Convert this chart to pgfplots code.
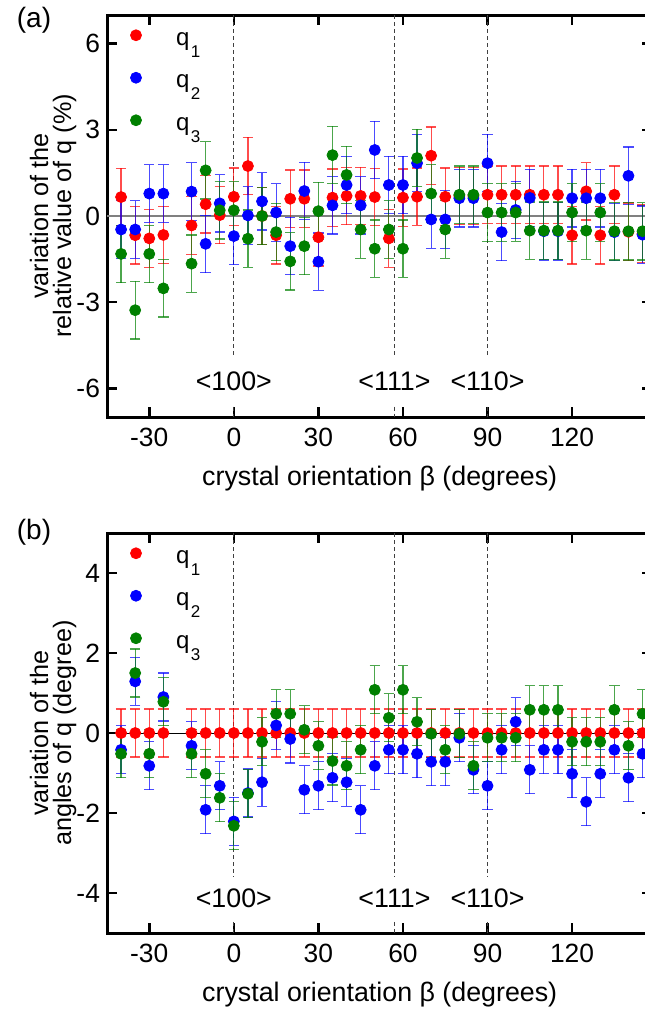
\documentclass[border=0pt]{standalone}
\usepackage{fontspec}
\setmainfont{Liberation Sans}
\usepackage{pgfplots}
\usepackage{pgfplotstable}
\pgfplotsset{compat=1.18}

\definecolor{qred}{RGB}{255,0,0}
\definecolor{qblue}{RGB}{0,0,255}
\definecolor{qgreen}{RGB}{0,128,0}

\pgfplotstableread{
x r b g
-40 0.66 -0.47 -1.32
-35 -0.67 -0.47 -3.28
-30 -0.78 0.78 -1.32
-25 -0.66 0.78 -2.52
-15 -0.33 0.85 -1.66
-10 0.41 -0.97 1.59
-5 0.03 0.44 0.20
0 0.67 -0.70 0.20
5 1.74 0.02 -0.79
10 0.00 0.51 0.00
15 -0.67 0.12 -0.56
20 0.60 -1.05 -1.58
25 0.60 0.87 -1.05
30 -0.74 -1.59 0.17
35 0.64 0.37 2.12
40 0.70 1.08 1.43
45 0.70 0.37 -0.47
50 0.66 2.30 -1.14
55 -0.78 1.08 -0.47
60 0.64 1.08 -1.14
65 0.67 1.84 2.02
70 2.10 -0.12 0.78
75 0.67 -0.12 -0.47
80 0.70 0.62 0.74
85 0.70 0.62 0.74
90 0.74 1.84 0.12
95 0.74 -0.56 0.12
100 0.74 0.21 0.12
105 0.74 0.63 -0.51
110 0.74 -0.53 -0.51
115 0.74 -0.53 -0.51
120 -0.67 0.62 0.12
125 0.86 0.62 -0.51
130 -0.67 0.62 0.12
135 0.74 -0.56 -0.53
140 -0.55 1.40 -0.53
145 -0.62 -0.65 -0.53
}\dataA

\pgfplotstableread{
x r b g
-40 0 -0.42 -0.52
-35 0 1.29 1.50
-30 0 -0.82 -0.52
-25 0 0.90 0.78
-15 0 -0.32 -0.52
-10 0 -1.92 -1.02
-5 0 -1.32 -1.62
0 0 -2.21 -2.32
5 0 -1.50 -1.52
10 0 -1.23 -0.22
15 0 0.19 0.48
20 0 -0.15 0.48
25 0 -1.42 0.08
30 0 -1.32 -0.32
35 0 -1.12 -0.70
40 0 -1.23 -0.82
45 0 -1.92 -0.42
50 0 -0.82 1.08
55 0 -0.42 0.38
60 0 -0.42 1.08
65 0 -0.52 0.28
70 0 -0.72 -0.02
75 0 -0.72 -0.42
80 0 -0.12 -0.02
85 0 -0.92 -0.82
90 0 -1.32 -0.12
95 0 -0.42 -0.12
100 0 0.28 -0.12
105 0 -0.92 0.58
110 0 -0.42 0.58
115 0 -0.42 0.58
120 0 -1.02 -0.22
125 0 -1.72 -0.22
130 0 -1.02 -0.22
135 0 -0.42 0.58
140 0 -1.12 -0.32
145 0 -0.52 0.48
}\dataB

\tikzset{lbl/.style={font=\fontsize{13.4}{15}\selectfont}}

\pgfplotsset{
  myaxis/.style={
    scale only axis, width=272.7pt,
    xmin=-45, xmax=148.5,
    xtick={-30,0,30,60,90,120},
    xticklabels={-30,0,30,60,90,120},
    axis line style={line width=1.5pt},
    major tick length=5pt,
    tick style={black, line width=1.3pt},
    tick label style={font=\fontsize{13.2}{15}\selectfont},
    xticklabel style={yshift=-2pt},
    xlabel={crystal orientation β (degrees)},
    every axis x label/.style={at={(rel axis cs:0.5,0)}, anchor=north, yshift=-21pt, font=\fontsize{13.4}{15}\selectfont},
    every axis y label/.style={at={(rel axis cs:0,0.5)}, rotate=90, anchor=center, yshift=27pt, align=center, font=\fontsize{12.6}{11.5}\selectfont},
    legend style={at={(0,1)}, anchor=north west, xshift=6.5pt, yshift=-3pt, draw=none, fill=none,
      inner sep=0pt, outer sep=0pt, row sep=0pt, column sep=0pt,
      font=\fontsize{12}{14}\selectfont,
      nodes={inner sep=0pt, text height=12pt, text depth=9.25pt}},
    legend cell align=left,
    legend image code/.code={\path[draw=none, fill=none] (0pt,0pt) -- (28pt,0pt); \draw[##1] plot coordinates {(8pt,3.5pt)};},
  },
  ser/.style n args={2}{only marks, mark=*, mark size=2.75pt, color=#1, mark options={fill=#1, draw=#1},
    forget plot,
    error bars/y dir=both, error bars/y fixed=#2,
    error bars/error bar style={line width=0.6pt, opacity=0.7},
    error bars/error mark options={rotate=90, mark size=2.6pt, line width=0.6pt, opacity=0.7}},
  vline/.style={forget plot, black!75, line width=0.5pt, dash pattern=on 2pt off 1.5pt},
}

\newcommand{\qsub}[1]{q\hspace{0.8pt}\raisebox{-6pt}{\fontsize{8.5}{9}\selectfont #1}}

\begin{document}
\begin{tikzpicture}
% ---------- panel (a)
\begin{axis}[myaxis, at={(53.5pt,-208.5pt)}, anchor=south west, height=201pt,
  ymin=-7, ymax=7, ytick={-6,-3,0,3,6}, yticklabels={-6,-3,0,3,6},
  ylabel={variation of the\\relative value of q (\%)}]
\addplot[forget plot, gray, line width=1.2pt] coordinates {(-45,0) (148.5,0)};
\addplot[vline] coordinates {(0,7) (0,-4.9)};
\addplot[vline] coordinates {(0,-6.64) (0,-7)};
\addplot[vline] coordinates {(57,7) (57,-4.9)};
\addplot[vline] coordinates {(57,-6.64) (57,-7)};
\addplot[vline] coordinates {(90,7) (90,-4.9)};
\addplot[vline] coordinates {(90,-6.64) (90,-7)};
\node[lbl] at (axis cs:0,-5.77) {<100>};
\node[lbl] at (axis cs:57,-5.77) {<111>};
\node[lbl] at (axis cs:90,-5.77) {<110>};
\addlegendimage{only marks, mark=*, mark size=2.75pt, qred, mark options={fill=qred}}
\addlegendentry{\qsub{1}}
\addlegendimage{only marks, mark=*, mark size=2.75pt, qblue, mark options={fill=qblue}}
\addlegendentry{\qsub{2}}
\addlegendimage{only marks, mark=*, mark size=2.75pt, qgreen, mark options={fill=qgreen}}
\addlegendentry{\qsub{3}}
\addplot[ser={qred}{1.0}] table[x=x, y=r] {\dataA};
\addplot[ser={qblue}{1.0}] table[x=x, y=b] {\dataA};
\addplot[ser={qgreen}{1.0}] table[x=x, y=g] {\dataA};
\end{axis}
% ---------- panel (b)
\begin{axis}[myaxis, at={(53.5pt,-466.5pt)}, anchor=south west, height=200pt,
  ymin=-5, ymax=5, ytick={-4,-2,0,2,4}, yticklabels={-4,-2,0,2,4},
  ylabel={variation of the\\angles of q (degree)}]
\addplot[forget plot, black, line width=0.5pt] coordinates {(-45,0) (148.5,0)};
\addplot[vline] coordinates {(0,5) (0,-3.59)};
\addplot[vline] coordinates {(0,-4.72) (0,-5)};
\addplot[vline] coordinates {(57,5) (57,-3.59)};
\addplot[vline] coordinates {(57,-4.72) (57,-5)};
\addplot[vline] coordinates {(90,5) (90,-3.59)};
\addplot[vline] coordinates {(90,-4.72) (90,-5)};
\node[lbl] at (axis cs:0,-4.12) {<100>};
\node[lbl] at (axis cs:57,-4.12) {<111>};
\node[lbl] at (axis cs:90,-4.12) {<110>};
\addlegendimage{only marks, mark=*, mark size=2.75pt, qred, mark options={fill=qred}}
\addlegendentry{\qsub{1}}
\addlegendimage{only marks, mark=*, mark size=2.75pt, qblue, mark options={fill=qblue}}
\addlegendentry{\qsub{2}}
\addlegendimage{only marks, mark=*, mark size=2.75pt, qgreen, mark options={fill=qgreen}}
\addlegendentry{\qsub{3}}
\addplot[ser={qred}{0.6}] table[x=x, y=r] {\dataB};
\addplot[ser={qblue}{0.6}] table[x=x, y=b] {\dataB};
\addplot[ser={qgreen}{0.6}] table[x=x, y=g] {\dataB};
\end{axis}
\node[font=\fontsize{14}{15}\selectfont] at (17pt,-10pt) {(a)};
\node[font=\fontsize{14}{15}\selectfont] at (17pt,-266.25pt) {(b)};
\pgfresetboundingbox
\path[use as bounding box] (0pt,0pt) rectangle (322pt,-508pt);
\end{tikzpicture}
\end{document}
